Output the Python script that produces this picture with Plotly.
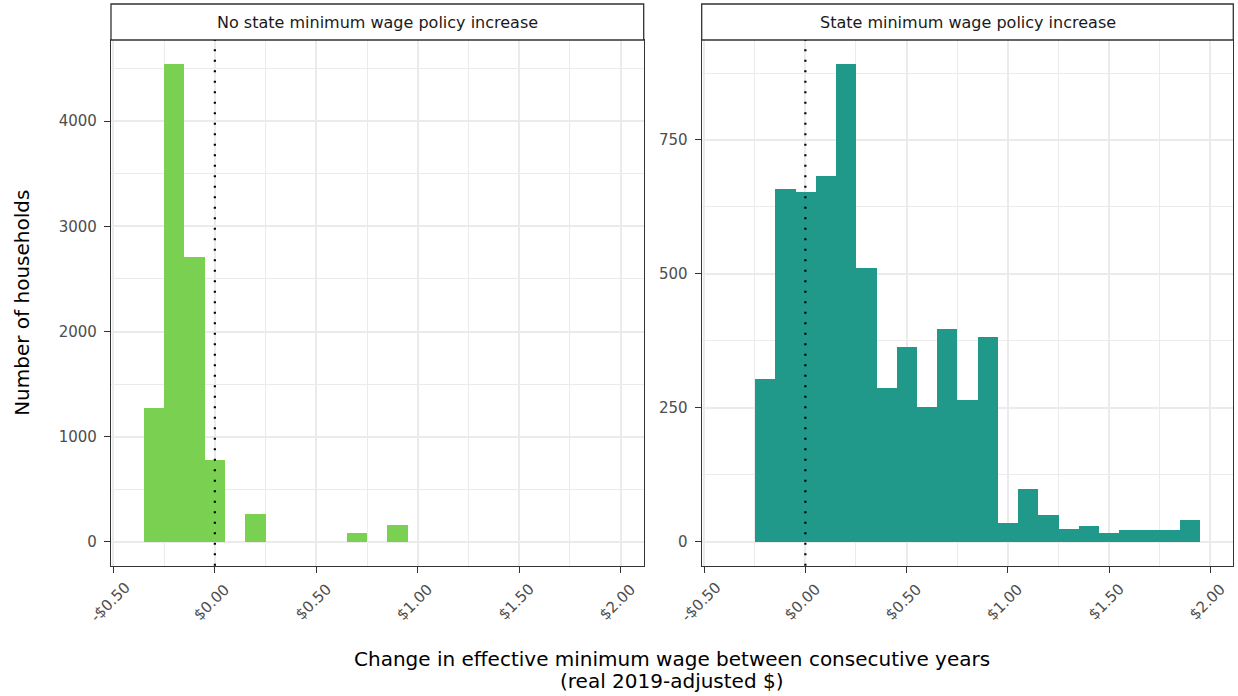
import plotly.graph_objects as go

# Histogram bins (bin centres, width 0.1) and household counts per panel
no_increase_bins = [-0.3, -0.2, -0.1, 0.0, 0.2, 0.7, 0.9]
no_increase_counts = [1276, 4545, 2712, 778, 267, 80, 162]

increase_bins = [-0.2, -0.1, 0.0, 0.1, 0.2, 0.3, 0.4, 0.5, 0.6, 0.7, 0.8, 0.9,
                 1.0, 1.1, 1.2, 1.3, 1.4, 1.5, 1.6, 1.7, 1.8, 1.9]
increase_counts = [304, 659, 652, 683, 892, 511, 287, 363, 252, 397, 264, 382,
                   35, 98, 50, 24, 30, 17, 22, 22, 22, 40]

panel_titles = ["No state minimum wage policy increase", "State minimum wage policy increase"]
x_tickvals = [-0.5, 0.0, 0.5, 1.0, 1.5, 2.0]
x_ticktext = ["-$0.50", "$0.00", "$0.50", "$1.00", "$1.50", "$2.00"]
left_yticks = [0, 1000, 2000, 3000, 4000]
right_yticks = [0, 250, 500, 750]
x_title_lines = ["Change in effective minimum wage between consecutive years",
                 "(real 2019-adjusted $)"]

BIN_WIDTH = 0.1
W, H = 1238, 696
FONT = "DejaVu Sans"
DARK = "#333333"
GRID = "#EBEBEB"
TICK_GREY = "#4D4D4D"

left_dom = [111 / W, 643.7 / W]
right_dom = [701.7 / W, 1233.3 / W]
y_dom = [1 - 565.7 / H, 1 - 40 / H]
strip_y = [1 - 40 / H, 1 - 4 / H]

fig = go.Figure()
fig.add_trace(go.Bar(x=no_increase_bins, y=no_increase_counts, width=BIN_WIDTH,
                     marker=dict(color="#7AD151", line=dict(width=0)),
                     xaxis="x", yaxis="y", showlegend=False))
fig.add_trace(go.Bar(x=increase_bins, y=increase_counts, width=BIN_WIDTH,
                     marker=dict(color="#21998A", line=dict(width=0)),
                     xaxis="x2", yaxis="y2", showlegend=False))

xrange = [-0.512, 2.114]


def xaxis(domain, anchor):
    return dict(domain=domain, anchor=anchor, range=xrange, automargin=False,
                tickvals=x_tickvals, showticklabels=False,
                ticks="outside", ticklen=6, tickwidth=1.3, tickcolor=DARK,
                showline=True, linecolor=DARK, linewidth=1.3, mirror=True,
                showgrid=True, gridcolor=GRID, gridwidth=1.6, zeroline=False,
                minor=dict(tickvals=[-0.25, 0.25, 0.75, 1.25, 1.75],
                           showgrid=True, gridcolor=GRID, gridwidth=0.8, ticks=""))


def yaxis(anchor, rng, ticks, minor_ticks):
    return dict(domain=y_dom, anchor=anchor, range=rng, tickvals=ticks,
                automargin=False, ticklabelstandoff=4,
                ticks="outside", ticklen=6, tickwidth=1.3, tickcolor=DARK,
                tickfont=dict(family=FONT, size=15, color=TICK_GREY),
                showline=True, linecolor=DARK, linewidth=1.3, mirror=True,
                showgrid=True, gridcolor=GRID, gridwidth=1.6, zeroline=False,
                minor=dict(tickvals=minor_ticks, showgrid=True, gridcolor=GRID,
                           gridwidth=0.8, ticks=""))


left_max = max(no_increase_counts)
right_max = max(increase_counts)

fig.update_layout(
    width=W, height=H,
    margin=dict(l=0, r=0, t=0, b=0, autoexpand=False),
    paper_bgcolor="white", plot_bgcolor="white",
    bargap=0, showlegend=False,
    font=dict(family=FONT),
    xaxis=xaxis(left_dom, "y"),
    yaxis=yaxis("x", [-0.05 * left_max, 1.05 * left_max], left_yticks,
                [500, 1500, 2500, 3500, 4500]),
    xaxis2=xaxis(right_dom, "y2"),
    yaxis2=yaxis("x2", [-0.05 * right_max, 1.05 * right_max], right_yticks,
                 [125, 375, 625, 875]),
)

shapes = []
annotations = []
for dom, title, xref in [(left_dom, panel_titles[0], "x"), (right_dom, panel_titles[1], "x2")]:
    # facet strip box
    shapes.append(dict(type="rect", xref="paper", yref="paper",
                       x0=dom[0], x1=dom[1], y0=strip_y[0], y1=strip_y[1],
                       fillcolor="white", line=dict(color=DARK, width=1.3), layer="above"))
    annotations.append(dict(text=title, xref="paper", yref="paper",
                            x=(dom[0] + dom[1]) / 2, y=(strip_y[0] + strip_y[1]) / 2,
                            xanchor="center", yanchor="middle", showarrow=False,
                            font=dict(family=FONT, size=16, color="#1A1A1A")))
    # dotted reference line at zero change
    yref = "y domain" if xref == "x" else "y2 domain"
    shapes.append(dict(type="line", xref=xref, yref=yref, x0=0, x1=0, y0=0, y1=1,
                       line=dict(color="black", width=2.2, dash="2px,8.5px"), layer="above"))
    # rotated dollar tick labels, centred under each tick
    for val, lab in zip(x_tickvals, x_ticktext):
        annotations.append(dict(text=lab, xref=xref, yref="paper", x=val, xshift=-3,
                                y=1 - 602 / H, textangle=-45,
                                xanchor="center", yanchor="middle", showarrow=False,
                                font=dict(family=FONT, size=15, color=TICK_GREY)))

annotations.append(dict(text="Number of households", xref="paper", yref="paper",
                        x=22 / W, y=(y_dom[0] + y_dom[1]) / 2, textangle=-90,
                        xanchor="center", yanchor="middle", showarrow=False,
                        font=dict(family=FONT, size=20, color="black")))
for line, ypx in zip(x_title_lines, [659, 681]):
    annotations.append(dict(text=line, xref="paper", yref="paper", x=672 / W, y=1 - ypx / H,
                            xanchor="center", yanchor="middle", showarrow=False,
                            font=dict(family=FONT, size=20, color="black")))

fig.update_layout(shapes=shapes, annotations=annotations)
fig.write_html("out.html")
